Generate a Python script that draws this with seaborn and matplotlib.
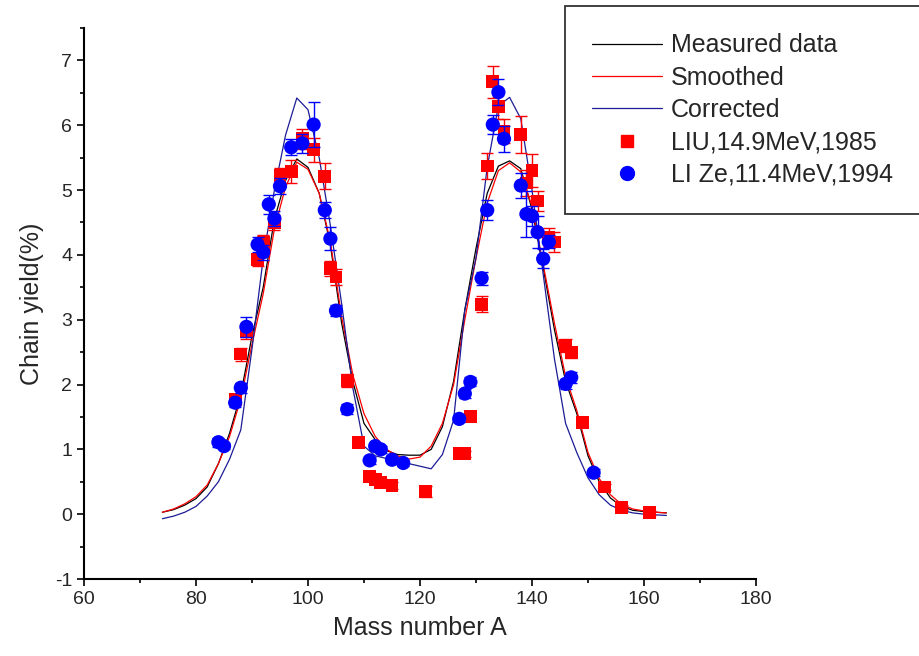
import numpy as np
import pandas as pd
import matplotlib
matplotlib.use("Agg")
import matplotlib.pyplot as plt
import seaborn as sns
from matplotlib.ticker import MultipleLocator
from matplotlib.lines import Line2D

sns.set_style("ticks")
plt.rcParams['font.family'] = ['Liberation Sans', 'DejaVu Sans']
plt.rcParams['axes.unicode_minus'] = False

# ---- curves (mass number grid) ----
mass_grid = list(range(74, 165, 2))
measured = [0.03, 0.07, 0.14, 0.24, 0.42, 0.78, 1.25, 1.85, 2.75, 3.50,
            4.55, 5.15, 5.48, 5.35, 4.95, 4.15, 2.95, 2.05, 1.40, 1.15,
            0.98, 0.92, 0.91, 0.91, 1.00, 1.35, 2.05, 3.15, 4.10, 4.95,
            5.37, 5.45, 5.33, 4.70, 3.80, 2.85, 2.05, 1.55, 0.90, 0.50,
            0.25, 0.12, 0.06, 0.04, 0.03, 0.02]
smoothed = [0.03, 0.08, 0.16, 0.27, 0.45, 0.78, 1.20, 1.78, 2.62, 3.40,
            4.40, 5.05, 5.43, 5.32, 4.95, 4.20, 3.05, 2.15, 1.55, 1.20,
            1.00, 0.90, 0.85, 0.88, 1.05, 1.40, 2.00, 3.00, 3.95, 4.80,
            5.30, 5.42, 5.28, 4.75, 3.85, 2.95, 2.12, 1.60, 0.95, 0.55,
            0.30, 0.15, 0.08, 0.05, 0.03, 0.02]
corrected = [-0.07, -0.03, 0.03, 0.12, 0.28, 0.50, 0.85, 1.30, 2.55, 3.95,
             5.00, 5.85, 6.42, 6.24, 5.50, 4.45, 3.25, 1.95, 1.05, 0.90,
             0.86, 0.82, 0.78, 0.74, 0.70, 0.92, 1.45, 3.15, 3.95, 5.35,
             6.30, 6.43, 6.10, 5.00, 3.70, 2.40, 1.40, 0.95, 0.56, 0.30,
             0.14, 0.06, 0.02, 0.00, -0.01, -0.02]

# ---- LIU, 14.9MeV, 1985 ----
liu_a = [87, 88, 89, 91, 92, 94, 95, 97, 99, 101, 103, 104, 105, 107, 109,
         111, 112, 113, 115, 121, 127, 128, 129, 131, 132, 133, 134, 135,
         138, 139, 140, 141, 143, 144, 146, 147, 149, 153, 156, 161]
liu_y = [1.77, 2.47, 2.82, 3.93, 4.19, 4.50, 5.22, 5.29, 5.79, 5.62, 5.21,
         3.79, 3.66, 2.06, 1.11, 0.58, 0.53, 0.49, 0.44, 0.35, 0.93, 0.93,
         1.51, 3.24, 5.37, 6.67, 6.29, 5.91, 5.86, 5.11, 5.30, 4.83, 4.27,
         4.20, 2.60, 2.49, 1.41, 0.42, 0.10, 0.02]
liu_err = [0.08, 0.10, 0.12, 0.10, 0.12, 0.12, 0.12, 0.18, 0.15, 0.18, 0.20,
           0.12, 0.12, 0.10, 0.06, 0.05, 0.05, 0.05, 0.05, 0.08, 0.05, 0.05,
           0.06, 0.12, 0.20, 0.25, 0.20, 0.18, 0.29, 0.20, 0.25, 0.15, 0.15,
           0.15, 0.10, 0.08, 0.07, 0.04, 0.04, 0.03]

# ---- LI Ze, 11.4MeV, 1994 ----
li_a = [84, 85, 87, 88, 89, 91, 92, 93, 94, 95, 97, 99, 101, 103, 104, 105,
        107, 111, 112, 113, 115, 117, 127, 128, 129, 131, 132, 133, 134, 135,
        138, 139, 140, 141, 142, 143, 146, 147, 151]
li_y = [1.11, 1.05, 1.72, 1.95, 2.89, 4.16, 4.04, 4.78, 4.56, 5.06, 5.66,
        5.72, 6.01, 4.69, 4.25, 3.14, 1.62, 0.83, 1.05, 1.00, 0.84, 0.79,
        1.47, 1.86, 2.04, 3.64, 4.69, 6.01, 6.51, 5.79, 5.07, 4.63, 4.60,
        4.35, 3.94, 4.20, 2.01, 2.11, 0.64]
li_err = [0.07, 0.05, 0.06, 0.08, 0.15, 0.12, 0.12, 0.15, 0.12, 0.12, 0.12,
          0.15, 0.35, 0.12, 0.18, 0.08, 0.08, 0.05, 0.05, 0.05, 0.05, 0.05,
          0.05, 0.07, 0.07, 0.10, 0.15, 0.15, 0.20, 0.20, 0.20, 0.35, 0.15,
          0.25, 0.15, 0.10, 0.08, 0.08, 0.05]

curves = pd.DataFrame({
    'A': mass_grid * 3,
    'Y': measured + smoothed + corrected,
    'Serie': ['Measured data'] * len(mass_grid) + ['Smoothed'] * len(mass_grid)
             + ['Corrected'] * len(mass_grid),
})
liu = pd.DataFrame({'A': liu_a, 'Y': liu_y, 'err': liu_err})
li = pd.DataFrame({'A': li_a, 'Y': li_y, 'err': li_err})

fig = plt.figure(figsize=(9.2, 6.56), dpi=100)
ax = fig.add_axes([84 / 920, 77 / 656, 672 / 920, 551 / 656])

cores = {'Measured data': 'black', 'Smoothed': '#ff0000', 'Corrected': '#1c1c96'}
sns.lineplot(data=curves, x='A', y='Y', hue='Serie', palette=cores,
             linewidth=0.9, sort=False, ax=ax, legend=False)

ax.errorbar(liu['A'], liu['Y'], yerr=liu['err'], fmt='none', ecolor='#ff0000',
            elinewidth=1, capsize=4, capthick=1, zorder=3)
sns.scatterplot(data=liu, x='A', y='Y', marker='s', s=85, color='#ff0000',
                edgecolor='none', ax=ax, zorder=4)
ax.errorbar(li['A'], li['Y'], yerr=li['err'], fmt='none', ecolor='#0000ff',
            elinewidth=1, capsize=4, capthick=1, zorder=5)
sns.scatterplot(data=li, x='A', y='Y', marker='o', s=105, color='#0000ff',
                edgecolor='none', ax=ax, zorder=6)

ax.set_xlim(60, 180)
ax.set_ylim(-1, 7.5)
ax.xaxis.set_major_locator(MultipleLocator(20))
ax.xaxis.set_minor_locator(MultipleLocator(10))
ax.yaxis.set_major_locator(MultipleLocator(1))
ax.yaxis.set_minor_locator(MultipleLocator(0.5))
ax.tick_params(which='major', direction='out', length=5, width=1.2, labelsize=14, color='black')
ax.tick_params(which='minor', direction='out', length=3, width=1.2, color='black')
sns.despine(ax=ax)
for s in ['left', 'bottom']:
    ax.spines[s].set_linewidth(1.5)
    ax.spines[s].set_color('black')

ax.set_xlabel('Mass number A', fontsize=18, labelpad=6)
ax.set_ylabel('Chain yield(%)', fontsize=18, labelpad=8)

handles = [
    Line2D([], [], color='black', lw=0.9),
    Line2D([], [], color='#ff0000', lw=0.9),
    Line2D([], [], color='#1c1c96', lw=0.9),
    Line2D([], [], color='#ff0000', marker='s', ls='none', markersize=9),
    Line2D([], [], color='#0000ff', marker='o', ls='none', markersize=10),
]
labels = ['Measured data', 'Smoothed', 'Corrected', 'LIU,14.9MeV,1985', 'LI Ze,11.4MeV,1994']
leg = fig.legend(handles, labels, loc='upper left', bbox_to_anchor=(565 / 920, 1 - 6 / 656),
                 frameon=True, fancybox=False, fontsize=18, handlelength=2.8,
                 handletextpad=0.34, labelspacing=0.33, borderpad=1.1, borderaxespad=0)
leg.get_frame().set_edgecolor('black')
leg.get_frame().set_linewidth(1.3)

fig.savefig('out.png', dpi=100)
